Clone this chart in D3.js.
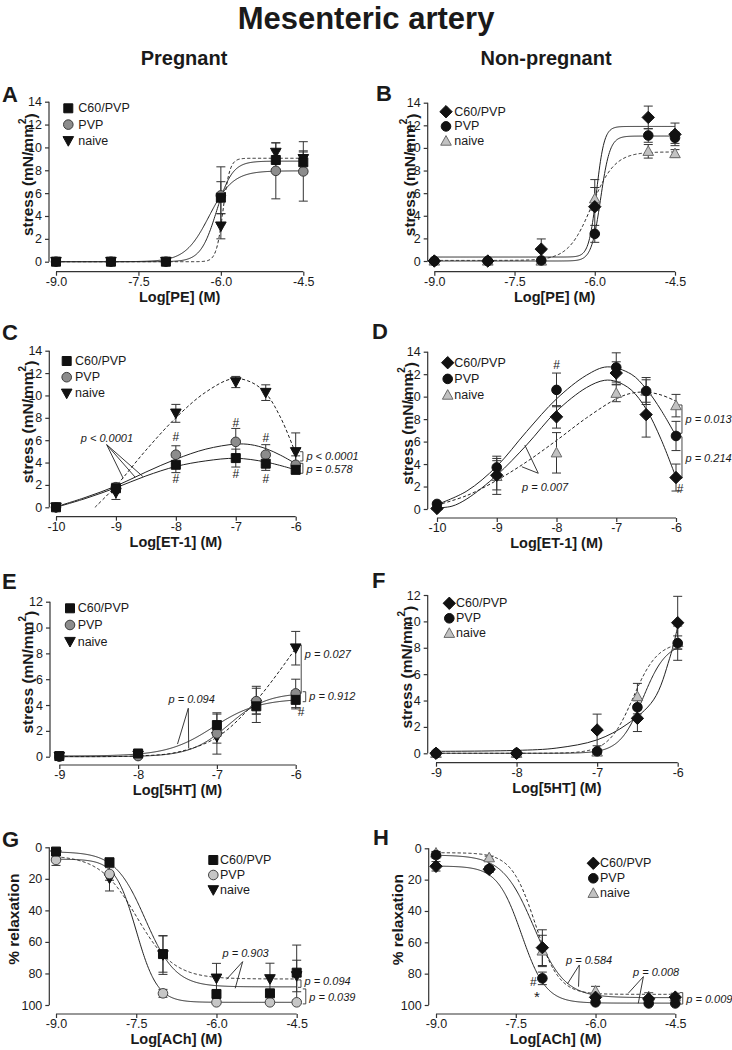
<!DOCTYPE html>
<html><head><meta charset="utf-8">
<script src="https://cdn.jsdelivr.net/npm/d3@7"></script>
<style>body{margin:0;background:#fff}svg{display:block}</style>
</head><body><svg id="c" width="732" height="1050"></svg>
<script>
// ================= DATA =================
const seriesNames = ["C60/PVP", "PVP", "naive"];
const xPE = [-9, -8, -7, -6, -5, -4.5];
const xET = [-10, -9, -8, -7, -6.5, -6];
const x5HT = [-9, -8, -7, -6.5, -6];
const xACh = [-9, -8, -7, -6, -5, -4.5];

const xTicksPE = [-9, -7.5, -6, -4.5];
const xTicksET = [-10, -9, -8, -7, -6];
const xTicks5HT = [-9, -8, -7, -6];
const xTicksACh = [-9, -7.5, -6, -4.5];
const yTicks14 = [0, 2, 4, 6, 8, 10, 12, 14];
const yTicks12 = [0, 2, 4, 6, 8, 10, 12];
const yTicksRel = [0, 20, 40, 60, 80, 100];

// A  Pregnant, PE
const aC60 = [0, 0, 0, 5.6, 8.9, 8.7],    aC60Err = [0, 0, 0, 1.4, 0.8, 1.0];
const aPVP = [0, 0, 0, 5.8, 7.95, 7.9],   aPVPErr = [0, 0, 0, 2.5, 2.45, 2.6];
const aNaive = [0, 0, 0, 3.1, 9.55, 9.0], aNaiveErr = [0, 0, 0, 1.1, 0.85, 0.6];
// fitted sigmoids: [bottom, top, logEC50, hill]
const aFitC60 = [0, 8.8, -6.08, 3], aFitPVP = [0, 7.95, -6.215, 2], aFitNaive = [0, 9.05, -5.96, 7];

// B  Non-pregnant, PE
const bC60 = [0, 0, 1.05, 4.8, 12.7, 11.2],  bC60Err = [0, 0, 0.9, 2.4, 1.0, 1.0];
const bPVP = [0, 0, 0.05, 2.4, 11.1, 10.9],  bPVPErr = [0, 0, 0, 0.75, 0.6, 0.5];
const bNaive = [0, 0, 0, 5.5, 9.7, 9.5],     bNaiveErr = [0, 0, 0, 1.0, 0.6, 0.35];
const bFitC60 = [0.35, 11.9, -5.967, 6], bFitPVP = [0, 11.05, -5.89, 5], bFitNaive = [0.05, 9.65, -6.06, 2];

// C  Pregnant, ET-1
const cC60 = [0, 1.7, 3.8, 4.4, 3.9, 3.35],      cC60Err = [0, 0.3, 0.7, 0.8, 0.6, 0.3];
const cPVP = [0, 1.8, 4.7, 5.85, 4.7, 3.8],      cPVPErr = [0, 0.35, 0.8, 1.2, 0.9, 0.8];
const cNaive = [0, 1.3, 8.4, 11.2, 10.25, 4.95], cNaiveErr = [0, 0.6, 0.8, 0.5, 0.7, 1.7];
// fitted bell curves: [x, y]
const cFitC60 = [[-10, 0], [-9.5, 0.8], [-9, 1.75], [-8.5, 2.8], [-8, 3.65], [-7.5, 4.15], [-7, 4.38], [-6.5, 4.05], [-6, 3.35]];
const cFitPVP = [[-10, 0.05], [-9.5, 0.9], [-9, 1.9], [-8.5, 3.15], [-8, 4.3], [-7.5, 5.2], [-7, 5.65], [-6.75, 5.6], [-6.5, 5.25], [-6.25, 4.65], [-6, 3.9]];
const cFitNaive = [[-9.35, 0], [-9, 1.9], [-8.5, 5.1], [-8, 8.0], [-7.5, 10.3], [-7.05, 11.5], [-6.75, 11.2], [-6.5, 10.2], [-6.25, 8.0], [-6, 4.8]];

// D  Non-pregnant, ET-1
const dC60 = [0.05, 3.0, 8.2, 12.1, 8.4, 2.8],    dC60Err = [0.05, 1.3, 1.0, 1.0, 2.0, 1.2];
const dPVP = [0.45, 3.7, 10.6, 12.6, 10.5, 6.5],  dPVPErr = [0.1, 1.0, 1.5, 1.3, 1.2, 1.3];
const dNaive = [0.3, 2.9, 5.0, 10.3, 10.5, 9.2],  dNaiveErr = [0.1, 1.6, 1.8, 0.75, 1.0, 1.0];
const dFitC60 = [[-10, 0.1], [-9.75, 0.25], [-9.5, 0.9], [-9, 3.0], [-8.5, 5.7], [-8, 8.7], [-7.5, 10.8], [-7.2, 11.45], [-7, 11.35], [-6.75, 10.6], [-6.5, 8.9], [-6.25, 6.2], [-6, 2.8]];
const dFitPVP = [[-10, 0.4], [-9.5, 1.6], [-9, 3.8], [-8.5, 6.9], [-8, 9.8], [-7.5, 11.9], [-7.15, 12.65], [-6.75, 12.0], [-6.5, 10.7], [-6.25, 8.8], [-6, 6.5]];
const dFitNaive = [[-10, 0.35], [-9.5, 1.2], [-9, 2.55], [-8.5, 4.2], [-8, 6.1], [-7.5, 8.1], [-7, 9.8], [-6.75, 10.3], [-6.5, 10.4], [-6.25, 10.15], [-6, 9.6]];

// E  Pregnant, 5HT
const eC60 = [0.05, 0.25, 2.45, 3.9, 4.4],  eC60Err = [0, 0.1, 0.85, 0.6, 0.7];
const ePVP = [0, 0.05, 1.8, 4.3, 4.9],      ePVPErr = [0, 0, 1.6, 1.0, 1.1];
const eNaive = [0, 0.1, 1.55, 4.05, 8.4],   eNaiveErr = [0, 0.1, 0.5, 1.4, 1.3];
const eFitC60 = [0.05, 4.5, -7.05, 1.5], eFitPVP = [0, 4.95, -6.85, 1.8];
const eFitNaive = [[-9, 0.02], [-8, 0.06], [-7.5, 0.35], [-7, 1.5], [-6.5, 4.35], [-6, 8.4]];

// F  Non-pregnant, 5HT
const fC60 = [0, 0, 1.77, 2.65, 9.9],   fC60Err = [0, 0, 1.2, 1.0, 2.0];
const fPVP = [0, 0, 0.15, 3.49, 8.35],  fPVPErr = [0, 0, 0.1, 0.5, 1.3];
const fNaive = [0, 0, 0.1, 4.3, 8.4],   fNaiveErr = [0, 0, 0.05, 1.0, 0.5];
const fFitC60 = [[-9, 0.15], [-8, 0.22], [-7.5, 0.4], [-7, 1.02], [-6.63, 2.2], [-6.3, 4.05], [-6.1, 7.2], [-6, 9.6]];
const fFitPVP = [0, 8.4, -6.43, 3], fFitNaive = [0, 8.45, -6.553, 2.85];

// G  Pregnant, ACh (% relaxation)
const gC60 = [2.7, 9.5, 67.7, 93, 92.6, 79.5],      gC60Err = [1.5, 2.5, 11.5, 2, 2, 17.5];
const gPVP = [8.0, 16.9, 92.6, 98.3, 98.3, 98.3],   gPVPErr = [3.5, 4, 2.5, 0.5, 0.5, 0.5];
const gNaive = [4.9, 19.7, 68.3, 83.1, 83.5, 81.6], gNaiveErr = [2, 8, 12.3, 9.5, 10, 10];
const gFitC60 = [2.8, 88.5, -7.33, 1.54], gFitPVP = [7.5, 98.3, -7.5, 2.2], gFitNaive = [5.0, 83.5, -7.49, 1.25];

// H  Non-pregnant, ACh
const hC60 = [11.5, 13.4, 63.4, 95.1, 96, 95],   hC60Err = [3, 2, 11.4, 1.5, 1, 1];
const hPVP = [4.3, 13.2, 83, 98.3, 99, 99],      hPVPErr = [2, 1.5, 4, 0.5, 0.5, 0.5];
const hNaive = [3, 6, 65.5, 91.1, 94.7, 94.5],   hNaiveErr = [1, 1, 10, 3, 2.5, 2];
const hFitC60 = [4.3, 95.3, -7.165, 1.49], hFitPVP = [11.3, 98.8, -7.39, 1.9], hFitNaive = [2.8, 93.2, -7.135, 1.94];

// annotations (data coordinates)
const cPointer = [{apex: [-9.154, 5.6], ends: [[-8.88, 2.6], [-8.68, 2.7], [-8.55, 2.75]], text: "p < 0.0001", tx: -9.15, ty: 6.17}];
const cBrackets = [{x: -5.88, y1: 4.97, y2: 4.14, ty: 4.55, text: "p < 0.0001"}, {x: -5.88, y1: 3.93, y2: 3.04, ty: 3.45, text: "p = 0.578"}];
const cHashes = [[-8, 6.26], [-7, 7.57], [-6.5, 6.17], [-8, 2.53], [-7, 2.98], [-6.5, 2.5]];
const dPointer = [{apex: [-8.305, 3.18], ends: [[-8.53, 5.69], [-8.58, 3.76]], text: "p = 0.007", tx: -8.19, ty: 1.99}];
const dBrackets = [{x: -5.9, y1: 9.26, y2: 6.74, ty: 7.98, text: "p = 0.013"}, {x: -5.9, y1: 6.43, y2: 2.73, ty: 4.5, text: "p = 0.214"}];
const dHashes = [[-8.0, 12.8], [-5.93, 1.75]];
const ePointer = [{apex: [-7.363, 3.75], ends: [[-7.5, 0.98], [-7.358, 0.65]], text: "p = 0.094", tx: -7.32, ty: 4.44}];
const eBrackets = [{x: -5.93, y1: 8.65, y2: 4.9, ty: 7.95, text: "p = 0.027"}, {x: -5.873, y1: 5.03, y2: 4.26, ty: 4.7, text: "p = 0.912"}];
const eHashes = [[-5.93, 3.48]];
const gPointer = [{apex: [-5.51, 72.5], ends: [[-5.81, 83.7], [-5.65, 89.4]], text: "p = 0.903", tx: -5.455, ty: 67.2}];
const gBrackets = [{x: -4.42, y1: 84.1, y2: 88.8, ty: 84.6, text: "p = 0.094"}, {x: -4.33, y1: 89.8, y2: 99.3, ty: 94.7, text: "p = 0.039"}];
const hPointer = [{apex: [-6.305, 74.5], ends: [[-6.53, 86.6], [-6.32, 88.3]], text: "p = 0.584", tx: -6.12, ty: 71.3},
                  {apex: [-5.10, 81.9], ends: [[-5.384, 92.5], [-5.196, 98.9]], text: "p = 0.008", tx: -4.86, ty: 78.7}];
const hBrackets = [{x: -4.36, y1: 92.1, y2: 99.4, ty: 96.4, text: "p = 0.009"}];
const hHashes = [[-7.17, 85.1]];
const hStars = [[-7.1, 92.5]];

// ================= STYLE / LAYOUT =================
const FONT = "'Liberation Sans', Arial, Helvetica, sans-serif";
const INK = "#1a1a1a";
const stylePreg = [{shape: "square", fill: "#111", stroke: "#111"}, {shape: "circle", fill: "#8c8c8c", stroke: "#3a3a3a"}, {shape: "triDown", fill: "#111", stroke: "#111"}];
const stylePregG = [{shape: "square", fill: "#111", stroke: "#111"}, {shape: "circle", fill: "#c6c6c6", stroke: "#444"}, {shape: "triDown", fill: "#111", stroke: "#111"}];
const styleNon = [{shape: "diamond", fill: "#111", stroke: "#111"}, {shape: "circle", fill: "#111", stroke: "#111"}, {shape: "triUp", fill: "#c2c2c2", stroke: "#6a6a6a"}];
const dashes = [null, null, "3.2,2.2"];

const panels = [
  {id: "A", x: xPE, ys: [aC60, aPVP, aNaive], errs: [aC60Err, aPVPErr, aNaiveErr], fits: [aFitC60, aFitPVP, aFitNaive],
   xd: [-9, -4.5], xt: xTicksPE, fmt: ".1f", yd: [0, 14], yt: yTicks14, xTitle: "Log[PE] (M)", yTitle: "stress", st: stylePreg,
   L: {yAxisX: 49, x0: 56, x1: 303.3, yTop: 101.7, yBot: 261.7, xAxisY: 271.7, yTitleX: 27, lab: [2, 101.7], leg: [68.3, 78.3, 108.3, 16.3]}},
  {id: "B", x: xPE, ys: [bC60, bPVP, bNaive], errs: [bC60Err, bPVPErr, bNaiveErr], fits: [bFitC60, bFitPVP, bFitNaive],
   xd: [-9, -4.5], xt: xTicksPE, fmt: ".1f", yd: [0, 14], yt: yTicks14, xTitle: "Log[PE] (M)", yTitle: "stress", st: styleNon,
   L: {yAxisX: 427.7, x0: 434.3, x1: 675, yTop: 102.7, yBot: 261, xAxisY: 271.7, yTitleX: 408.5, lab: [376, 101], leg: [446, 454.3, 111.7, 14.7]}},
  {id: "C", x: xET, ys: [cC60, cPVP, cNaive], errs: [cC60Err, cPVPErr, cNaiveErr], fits: [cFitC60, cFitPVP, cFitNaive],
   xd: [-10, -6], xt: xTicksET, fmt: "d", yd: [0, 14], yt: yTicks14, xTitle: "Log[ET-1] (M)", yTitle: "stress", st: stylePreg,
   ptr: cPointer, br: cBrackets, hash: cHashes,
   L: {yAxisX: 49.3, x0: 56, x1: 295.7, yTop: 350.7, yBot: 507.3, xAxisY: 516.7, yTitleX: 27, lab: [2, 340], leg: [66.7, 75, 361, 16.2]}},
  {id: "D", x: xET, ys: [dC60, dPVP, dNaive], errs: [dC60Err, dPVPErr, dNaiveErr], fits: [dFitC60, dFitPVP, dFitNaive],
   xd: [-10, -6], xt: xTicksET, fmt: "d", yd: [0, 14], yt: yTicks14, xTitle: "Log[ET-1] (M)", yTitle: "stress", st: styleNon,
   ptr: dPointer, br: dBrackets, hash: dHashes,
   L: {yAxisX: 427.7, x0: 437, x1: 676, yTop: 351.7, yBot: 509, xAxisY: 518, yTitleX: 406.5, lab: [372, 339], leg: [447.7, 454.3, 362.7, 16.2]}},
  {id: "E", x: x5HT, ys: [eC60, ePVP, eNaive], errs: [eC60Err, ePVPErr, eNaiveErr], fits: [eFitC60, eFitPVP, eFitNaive],
   xd: [-9, -6], xt: xTicks5HT, fmt: "d", yd: [0, 12], yt: yTicks12, xTitle: "Log[5HT] (M)", yTitle: "stress", st: stylePreg,
   ptr: ePointer, br: eBrackets, hash: eHashes,
   L: {yAxisX: 50, x0: 59.3, x1: 295.7, yTop: 601.7, yBot: 756.7, xAxisY: 765, yTitleX: 27, lab: [2, 589], leg: [70, 77.7, 608.3, 16.7]}},
  {id: "F", x: x5HT, ys: [fC60, fPVP, fNaive], errs: [fC60Err, fPVPErr, fNaiveErr], fits: [fFitC60, fFitPVP, fFitNaive],
   xd: [-9, -6], xt: xTicks5HT, fmt: "d", yd: [0, 12], yt: yTicks12, xTitle: "Log[5HT] (M)", yTitle: "stress", st: styleNon,
   L: {yAxisX: 427.7, x0: 436, x1: 677.7, yTop: 595, yBot: 753.3, xAxisY: 762.7, yTitleX: 406, lab: [372, 588], leg: [449.3, 456, 603.3, 15]}},
  {id: "G", x: xACh, ys: [gC60, gPVP, gNaive], errs: [gC60Err, gPVPErr, gNaiveErr], fits: [gFitC60, gFitPVP, gFitNaive],
   xd: [-9, -4.5], xt: xTicksACh, fmt: ".1f", yd: [0, 100], yt: yTicksRel, rev: true, xTitle: "Log[ACh] (M)", yTitle: "% relaxation", st: stylePregG,
   ptr: gPointer, br: gBrackets,
   L: {yAxisX: 49.3, x0: 56, x1: 296.7, yTop: 847.3, yBot: 1005, xAxisY: 1014, yTitleX: 13.5, lab: [2, 846.7], leg: [213.3, 220, 860, 15]}},
  {id: "H", x: xACh, ys: [hC60, hPVP, hNaive], errs: [hC60Err, hPVPErr, hNaiveErr], fits: [hFitC60, hFitPVP, hFitNaive],
   xd: [-9, -4.5], xt: xTicksACh, fmt: ".1f", yd: [0, 100], yt: yTicksRel, rev: true, xTitle: "Log[ACh] (M)", yTitle: "% relaxation", st: styleNon,
   ptr: hPointer, br: hBrackets, hash: hHashes, star: hStars,
   L: {yAxisX: 428.7, x0: 436, x1: 675.3, yTop: 848.3, yBot: 1005, xAxisY: 1014, yTitleX: 397.5, lab: [373, 845], leg: [593.3, 600, 863.3, 15]}}
];

// ================= DRAW =================
const svg = d3.select("#c").style("font-family", FONT);

svg.append("text").attr("x", 366).attr("y", 29).attr("text-anchor", "middle")
  .style("font-size", "31px").style("font-weight", "bold").attr("fill", INK).text("Mesenteric artery");
svg.append("text").attr("x", 184).attr("y", 65).attr("text-anchor", "middle")
  .style("font-size", "20px").style("font-weight", "bold").attr("fill", INK).text("Pregnant");
svg.append("text").attr("x", 546).attr("y", 65).attr("text-anchor", "middle")
  .style("font-size", "20px").style("font-weight", "bold").attr("fill", INK).text("Non-pregnant");

function markerPath(shape) {
  switch (shape) {
    case "square": return "M-4.5,-4.5H4.5V4.5H-4.5Z";
    case "circle": return d3.symbol(d3.symbolCircle, Math.PI * 4.8 * 4.8)();
    case "triDown": return "M-5.3,-4.3L5.3,-4.3L0,5.3Z";
    case "triUp": return "M0,-5.5L5.3,4.1L-5.3,4.1Z";
    case "diamond": return "M0,-6.2L6.2,0L0,6.2L-6.2,0Z";
  }
}

function fitPoints(fit, xd) {
  if (typeof fit[0] === "number") {
    const [b, t, e, h] = fit;
    return {pts: d3.range(0, 401).map(i => {
      const x = xd[0] + (xd[1] - xd[0]) * i / 400;
      return [x, b + (t - b) / (1 + Math.pow(10, (e - x) * h))];
    }), curve: d3.curveLinear};
  }
  return {pts: fit, curve: d3.curveCatmullRom.alpha(0.5)};
}

panels.forEach(p => {
  const L = p.L;
  const g = svg.append("g");
  const xs = d3.scaleLinear().domain(p.xd).range([L.x0, L.x1]);
  const ys = d3.scaleLinear().domain(p.yd).range(p.rev ? [L.yTop, L.yBot] : [L.yBot, L.yTop]);
  const xf = d3.format(p.fmt);

  // panel letter
  g.append("text").attr("x", L.lab[0]).attr("y", L.lab[1]).style("font-size", "22px").style("font-weight", "bold")
    .attr("fill", INK).text(p.id);

  // y axis
  const ya = g.append("g").attr("transform", `translate(${L.yAxisX},0)`)
    .call(d3.axisLeft(ys).tickValues(p.yt).tickSize(4).tickPadding(3).tickFormat(d3.format("d")));
  ya.select(".domain").attr("d", `M0,${L.yTop}V${L.yBot}`);
  // x axis
  const xa = g.append("g").attr("transform", `translate(0,${L.xAxisY})`)
    .call(d3.axisBottom(xs).tickValues(p.xt).tickSize(4).tickPadding(1.5).tickFormat(d => xf(d).replace("\u2212", "-")));
  xa.select(".domain").attr("d", `M${L.x0},0H${L.x1}`);
  [ya, xa].forEach(a => {
    a.selectAll(".domain, line").attr("stroke", "#333").attr("stroke-width", 1.2);
    a.selectAll("text").style("font-size", "12.5px").style("font-family", FONT).attr("fill", INK);
  });

  // axis titles
  g.append("text").attr("x", (L.x0 + L.x1) / 2).attr("y", L.xAxisY + 25).attr("text-anchor", "middle")
    .attr("dominant-baseline", "central").style("font-size", "14.5px").style("font-weight", "bold").attr("fill", INK).text(p.xTitle);
  const yt = g.append("text").attr("transform", `translate(${L.yTitleX},${(L.yTop + L.yBot) / 2 - 7}) rotate(-90)`)
    .attr("text-anchor", "middle").attr("dominant-baseline", "central")
    .style("font-size", "15.5px").style("font-weight", "bold").attr("fill", INK);
  if (p.yTitle === "stress") {
    yt.append("tspan").text("stress (mN/mm");
    yt.append("tspan").attr("dy", "-0.55em").style("font-size", "10px").text("2");
    yt.append("tspan").attr("dy", "0.55em").text(")");
  } else yt.text(p.yTitle);

  // fitted curves
  p.fits.forEach((f, i) => {
    const fp = fitPoints(f, p.xd);
    g.append("path").attr("d", d3.line().x(d => xs(d[0])).y(d => ys(d[1])).curve(fp.curve)(fp.pts))
      .attr("fill", "none").attr("stroke", "#222").attr("stroke-width", 1)
      .attr("stroke-dasharray", dashes[i]);
  });

  // pointer annotations
  (p.ptr || []).forEach(a => {
    a.ends.forEach(e => g.append("line").attr("x1", xs(a.apex[0])).attr("y1", ys(a.apex[1]))
      .attr("x2", xs(e[0])).attr("y2", ys(e[1])).attr("stroke", "#222").attr("stroke-width", 0.9));
    g.append("text").attr("x", xs(a.tx)).attr("y", ys(a.ty)).attr("text-anchor", "middle").attr("dominant-baseline", "central")
      .style("font-size", "11px").style("font-style", "italic").attr("fill", INK).text(a.text);
  });
  (p.br || []).forEach(b => {
    const bx = xs(b.x);
    g.append("path").attr("d", `M${bx - 3},${ys(b.y1)}H${bx}V${ys(b.y2)}H${bx - 3}`)
      .attr("fill", "none").attr("stroke", "#333").attr("stroke-width", 0.9);
    g.append("text").attr("x", bx + 3.5).attr("y", ys(b.ty)).attr("dominant-baseline", "central")
      .style("font-size", "11px").style("font-style", "italic").attr("fill", INK).text(b.text);
  });

  // error bars
  p.ys.forEach((yv, i) => {
    yv.forEach((v, j) => {
      const e = p.errs[i][j];
      if (!e) return;
      const cx = xs(p.x[j]), t = ys(v + e), bo = ys(v - e);
      g.append("path").attr("d", `M${cx},${t}V${bo}M${cx - 4.5},${t}H${cx + 4.5}M${cx - 4.5},${bo}H${cx + 4.5}`)
        .attr("fill", "none").attr("stroke", "#333").attr("stroke-width", 1);
    });
  });

  // markers (naive first so C60 / PVP are on top, like the reference)
  [2, 1, 0].forEach(i => {
    const s = p.st[i];
    g.selectAll(null).data(p.ys[i]).join("path")
      .attr("transform", (v, j) => `translate(${xs(p.x[j])},${ys(v)})`)
      .attr("d", markerPath(s.shape)).attr("fill", s.fill).attr("stroke", s.stroke).attr("stroke-width", 1);
  });

  // hashes & stars
  (p.hash || []).forEach(h => g.append("text").attr("x", xs(h[0])).attr("y", ys(h[1])).attr("text-anchor", "middle")
    .attr("dominant-baseline", "central").style("font-size", "12px").attr("fill", INK).text("#"));
  (p.star || []).forEach(h => g.append("text").attr("x", xs(h[0])).attr("y", ys(h[1]) + 3).attr("text-anchor", "middle")
    .attr("dominant-baseline", "central").style("font-size", "15px").attr("fill", INK).text("*"));

  // legend
  const [mx, tx, ly, step] = L.leg;
  seriesNames.forEach((n, i) => {
    const s = p.st[i];
    g.append("path").attr("transform", `translate(${mx},${ly + i * step})`).attr("d", markerPath(s.shape))
      .attr("fill", s.fill).attr("stroke", s.stroke).attr("stroke-width", 1);
    g.append("text").attr("x", tx).attr("y", ly + i * step).attr("dominant-baseline", "central")
      .style("font-size", "12.5px").attr("fill", INK).text(n);
  });
});
</script></body></html>
